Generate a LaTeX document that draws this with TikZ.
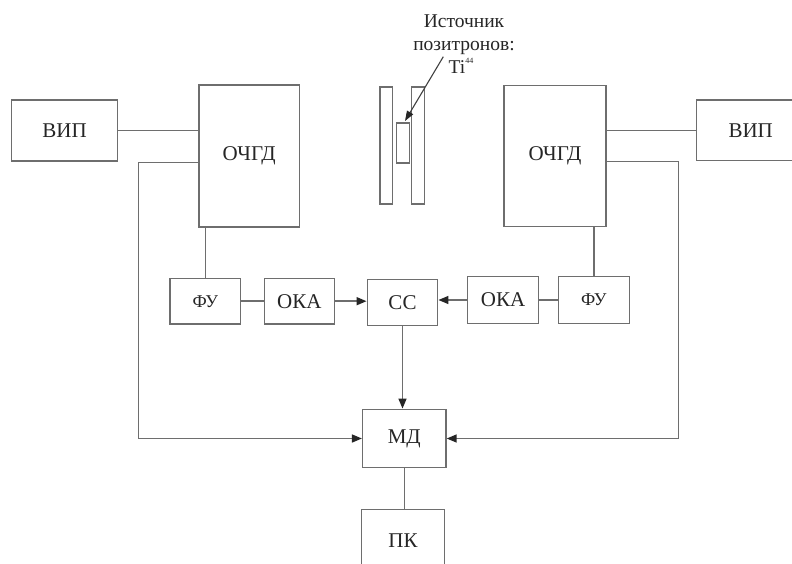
\documentclass[tikz,border=0pt]{standalone}
\usepackage{fontspec}
\setmainfont{Liberation Serif}
\usetikzlibrary{arrows.meta}
\definecolor{ln}{HTML}{6e6e6e}
\definecolor{tx}{HTML}{262626}
\begin{document}
\begin{tikzpicture}[x=1pt,y=-1pt,
  box/.style={draw=ln, line width=1.5pt, text=tx, inner sep=0pt, font=\fontsize{21}{23}\selectfont},
  fu/.style={font=\fontsize{18}{20}\selectfont},
  plate/.style={draw=ln, line width=1.5pt, inner sep=0pt},
  conn/.style={draw=ln, line width=1.5pt},
  arr/.style={conn, -{Triangle[length=10pt,width=8pt,color=black!85]}},
  lbl/.style={text=tx, inner sep=0pt, anchor=base, font=\fontsize{19.5}{22}\selectfont}]
\useasboundingbox (0,0) rectangle (792,564);
\fill[white] (0,0) rectangle (792,564);
\clip (0,0) rectangle (792,564);

% blocks
\node[box, minimum width=105.6pt, minimum height=61pt] (vipL) at (64.5,130.5) {ВИП};
\node[box, minimum width=100.3pt, minimum height=141.7pt] (ochL) at (249.2,155.9) {ОЧГД};
\node[box, minimum width=102pt, minimum height=141pt] (ochR) at (555,156.2) {ОЧГД};
\node[box, minimum width=108pt, minimum height=60.7pt] (vipR) at (750.7,130.4) {ВИП};
\node[box, fu, minimum width=70.7pt, minimum height=45.7pt] (fuL) at (205.3,301.2) {ФУ};
\node[box, minimum width=70pt, minimum height=45.7pt] (okaL) at (299.3,301.2) {ОКА};
\node[box, minimum width=70.4pt, minimum height=46.4pt] (cc) at (402.5,302.5) {СС};
\node[box, minimum width=70.6pt, minimum height=46.6pt] (okaR) at (503,300) {ОКА};
\node[box, fu, minimum width=71pt, minimum height=46.6pt] (fuR) at (593.8,300) {ФУ};
\node[box, minimum width=83.3pt, minimum height=58.4pt] (md) at (404.3,438.5) {МД};
\node[box, minimum width=82.6pt, minimum height=62pt] (pk) at (403,540.3) {ПК};

% positron source
\node[plate, minimum width=12.7pt, minimum height=117pt] (plL) at (386.3,145.5) {};
\node[plate, minimum width=12.6pt, minimum height=117pt] (plR) at (418,145.5) {};
\node[plate, minimum width=12.6pt, minimum height=40pt] (src) at (403,143) {};

\node[lbl] (t1) at (464,28) {Источник};
\node[lbl] (t2) at (464,51) {позитронов:};
\node[lbl] (t3) at (461,74) {Ti\raisebox{0.55em}{\fontsize{8}{8}\selectfont 44}};
\coordinate (as) at (443.3,56.7);
\coordinate (ae) at (405,121);
\draw[draw=black!75, line width=1.1pt, -{Triangle[length=10pt,width=7pt,color=black!85]}] (as) -- (ae);

% connectors
\draw[conn] (vipL.east) -- (vipL.east -| ochL.west);
\draw[conn] (vipR.west -| ochR.east) -- (vipR.west);
\draw[arr] (ochL.west |- 0,162.7) -- (138.3,162.7) |- (md.west);
\draw[arr] (ochR.east |- 0,161.7) -- (678.5,161.7) |- (md.east);
\draw[conn] (ochL.south -| fuL.north) -- (fuL.north);
\draw[conn] (ochR.south -| fuR.north) -- (fuR.north);
\draw[conn] (fuL.east) -- (fuL.east -| okaL.west);
\draw[arr] (okaL.east) -- (okaL.east -| cc.west);
\draw[arr] (okaR.west) -- (okaR.west -| cc.east);
\draw[conn] (fuR.west) -- (fuR.west -| okaR.east);
\draw[arr] (cc.south) -- (cc.south |- md.north);
\draw[conn] (md.south) -- (md.south |- pk.north);
\end{tikzpicture}
\end{document}
